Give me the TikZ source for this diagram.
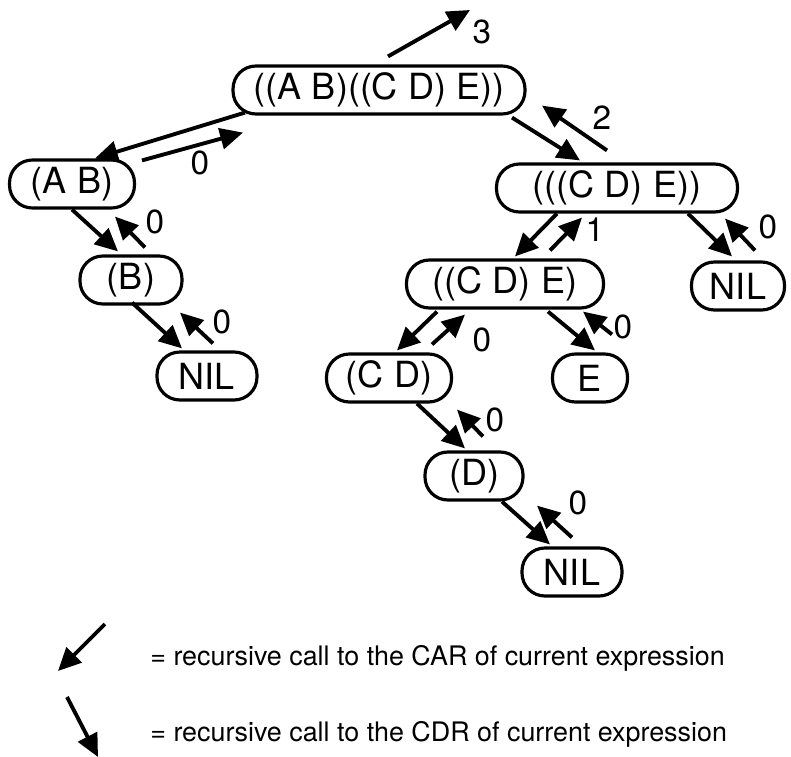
\documentclass[tikz,border=0pt]{standalone}
\usepackage{fontspec}
\setmainfont{TeX Gyre Heros}
\usepackage{tikz}
\usetikzlibrary{arrows.meta}
\usetikzlibrary{positioning}
\tikzset{
  expr/.style={draw, line width=1.8pt, rounded corners=13pt, inner sep=0pt,
    minimum height=0.96cm, font=\fontsize{20.5}{23}\selectfont},
  call/.style={-{Triangle[length=13pt,width=12pt]}, line width=2.2pt},
  ret/.style={-{Triangle[length=13pt,width=12pt]}, line width=2.2pt},
  cnt/.style={font=\fontsize{19}{21}\selectfont, inner sep=0pt},
  legend/.style={font=\fontsize{15.3}{18}\selectfont, inner sep=0pt, anchor=west}
}

\begin{document}
\begin{tikzpicture}[x=0.02cm, y=-0.02cm]
    \useasboundingbox (0,0) rectangle (791,757);

    % expressions
    \node[expr, minimum width=5.84cm] (root) at (379,90) {((A B)((C D) E))};
    \node[expr, minimum width=2.5cm]  (ab)   at (72,184)  {(A B)};
    \node[expr, minimum width=2.04cm] (b)    at (131,280) {(B)};
    \node[expr, minimum width=2.0cm]  (nilA) at (207,376) {NIL};
    \node[expr, minimum width=4.82cm] (cdeE) at (617,188) {(((C D) E))};
    \node[expr, minimum width=3.94cm] (cde)  at (505,284) {((C D) E)};
    \node[expr, minimum width=1.86cm] (nilB) at (738,286) {NIL};
    \node[expr, minimum width=2.5cm]  (cd)   at (389,378) {(C D)};
    \node[expr, minimum width=1.5cm]  (e)    at (590,378) {E};
    \node[expr, minimum width=1.96cm] (d)    at (474,476) {(D)};
    \node[expr, minimum width=2.0cm]  (nilC) at (572,572) {NIL};

    % calls and returns
    \draw[call] ([shift={(-134,-3)}]root.south) -- ([shift={(23,0)}]ab.north);
    \draw[ret] ([shift={(70,2)}]ab.north) -- ([shift={(-136,17)}]root.south);
    \node[cnt] (c1) at (200,163) {0};

    \draw[call] ([shift={(133,2)}]root.south) -- ([shift={(-37,-2)}]cdeE.north);
    \draw[ret] ([shift={(-10,-12)}]cdeE.north) -- ([shift={(163,-10)}]root.south);
    \node[cnt] (c2) at (602,118) {2};

    \coordinate (out) at (470,10);
    \draw[ret] ([shift={(9,-8)}]root.north) -- (out);
    \node[cnt] (c3) at (482,32) {3};

    \draw[call] (ab.south) -- ([shift={(-13,-3)}]b.north);
    \draw[ret] ([shift={(14,-7)}]b.north) -- ([shift={(43,7)}]ab.south);
    \node[cnt] (c4) at (155,222) {0};

    \draw[call] ([shift={(1,-3)}]b.south) -- ([shift={(-25,-2)}]nilA.north);
    \draw[ret] ([shift={(6,-7)}]nilA.north) -- ([shift={(49,7)}]b.south);
    \node[cnt] (c5) at (222,322) {0};

    \draw[call] ([shift={(-60,0)}]cdeE.south) -- ([shift={(10,-2)}]cde.north);
    \draw[ret] ([shift={(45,-8)}]cde.north) -- ([shift={(-35,4)}]cdeE.south);
    \node[cnt] (c6) at (595,230) {1};

    \draw[call] ([shift={(71,0)}]cdeE.south) -- ([shift={(-6,-4)}]nilB.north);
    \draw[ret] ([shift={(17,-10)}]nilB.north) -- ([shift={(108,5)}]cdeE.south);
    \node[cnt] (c7) at (768,227) {0};

    \draw[call] ([shift={(-68,2)}]cde.south) -- ([shift={(8,-2)}]cd.north);
    \draw[ret] ([shift={(43,-8)}]cd.north) -- ([shift={(-40,5)}]cde.south);
    \node[cnt] (c8) at (482,340) {0};

    \draw[call] ([shift={(43,2)}]cde.south) -- ([shift={(5,-2)}]e.north);
    \draw[ret] ([shift={(22,-18)}]e.north) -- ([shift={(78,2)}]cde.south);
    \node[cnt] (c9) at (623,327) {0};

    \draw[call] ([shift={(28,0)}]cd.south) -- ([shift={(-9,-2)}]d.north);
    \draw[ret] ([shift={(9,-14)}]d.north) -- ([shift={(68,6)}]cd.south);
    \node[cnt] (c10) at (495,420) {0};

    \draw[call] ([shift={(28,0)}]d.south) -- ([shift={(-22,-2)}]nilC.north);
    \draw[ret] ([shift={(0,-9)}]nilC.north) -- ([shift={(63,4)}]d.south);
    \node[cnt] (c11) at (578,503) {0};

    % legend
    \coordinate (carFrom) at (105,624);
    \coordinate (carTo) at (58,671);
    \coordinate (cdrFrom) at (67,697);
    \coordinate (cdrTo) at (98,757);
    \draw[call] (carFrom) -- (carTo);
    \draw[call] (cdrFrom) -- (cdrTo);
    \node[legend] (carText) at (150,658) {= recursive call to the CAR of current expression};
    \node[legend] (cdrText) at (150,734) {= recursive call to the CDR of current expression};
\end{tikzpicture}
\end{document}
